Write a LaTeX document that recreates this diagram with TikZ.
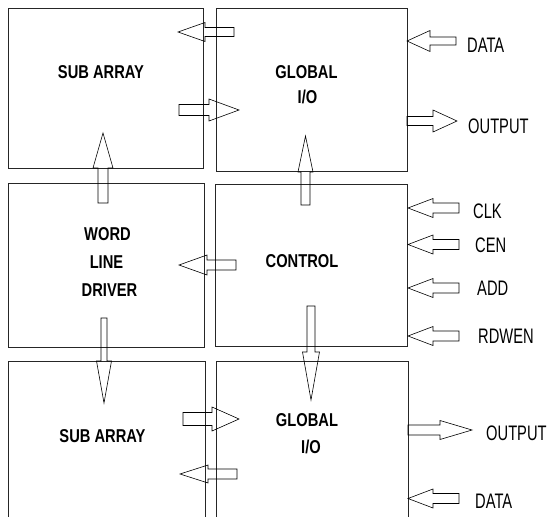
\documentclass[tikz,border=0pt]{standalone}
\usepackage{fontspec}
\usetikzlibrary{calc}
\newfontfamily\boxfont[FakeStretch=0.79]{Liberation Sans}
\newfontfamily\sigfont[FakeStretch=0.7]{Liberation Sans}
% block arrow: tail, tip, shaft half width, head half width, head length
\newcommand{\blockarrow}[5]{%
  \coordinate (bh) at ($(#2)!#5pt!(#1)$);
  \draw[blkarrow] ($(#1)!#3pt!90:(#2)$) -- ($(bh)!#3pt!90:(#2)$) -- ($(bh)!#4pt!90:(#2)$) -- (#2)
    -- ($(bh)!#4pt!-90:(#2)$) -- ($(bh)!#3pt!-90:(#2)$) -- ($(#1)!#3pt!-90:(#2)$) -- cycle;
}
\begin{document}
\begin{tikzpicture}[x=1pt,y=-1pt,
    box/.style={draw=black!85, line width=0.8pt, inner sep=0pt},
    blkarrow/.style={draw=black, line width=0.6pt, line join=miter},
    boxlabel/.style={anchor=base, inner sep=0pt, font=\boxfont\bfseries\fontsize{18.6}{20}\selectfont},
    siglabel/.style={anchor=base west, inner sep=0pt, font=\sigfont\fontsize{21}{24}\selectfont}]
    \clip (0,0) rectangle (547,517);
    \fill[white] (0,0) rectangle (547,517);
    % blocks
    \node[box, minimum width=195pt, minimum height=160pt] (sa1) at (105.5,88) {};
    \node[box, minimum width=191pt, minimum height=163pt] (gio1) at (311.5,89.5) {};
    \node[box, minimum width=196pt, minimum height=164pt] (wld) at (106,265) {};
    \node[box, minimum width=192pt, minimum height=162pt] (ctl) at (311,265) {};
    \node[box, minimum width=197pt, minimum height=168pt] (sa2) at (106.5,445) {};
    \node[box, minimum width=192pt, minimum height=168pt] (gio2) at (312,445) {};
    \node[boxlabel] (sa1a) at (101,78) {SUB ARRAY};
    \node[boxlabel] (gio1a) at (306.5,78) {GLOBAL};
    \node[boxlabel] (gio1b) at (307.5,103) {I/O};
    \node[boxlabel] (wlda) at (107.5,240) {WORD};
    \node[boxlabel] (wldb) at (106.5,268) {LINE};
    \node[boxlabel] (wldc) at (109.5,296) {DRIVER};
    \node[boxlabel] (ctla) at (302,267) {CONTROL};
    \node[boxlabel] (sa2a) at (102.5,442) {SUB ARRAY};
    \node[boxlabel] (gio2a) at (307,426) {GLOBAL};
    \node[boxlabel] (gio2b) at (311,453) {I/O};
    % arrow ends
    \coordinate (ga) at (234,32);   \coordinate (gb) at (178,32);
    \coordinate (sa) at (179,110);  \coordinate (sb) at (239,110);
    \coordinate (wa) at (103,203);  \coordinate (wb) at (103,133);
    \coordinate (ca) at (305.5,205);\coordinate (cb) at (305.5,136);
    \coordinate (da) at (456,41);   \coordinate (db) at (407,41);
    \coordinate (oa) at (407,121);  \coordinate (ob) at (457,121);
    \coordinate (cwa) at (236,265); \coordinate (cwb) at (179,265);
    \coordinate (k1a) at (459,208); \coordinate (k1b) at (408,208);
    \coordinate (k2a) at (459,244.5); \coordinate (k2b) at (408,244.5);
    \coordinate (k3a) at (459,288); \coordinate (k3b) at (408,288);
    \coordinate (k4a) at (459,336); \coordinate (k4b) at (408,336);
    \coordinate (wsa) at (104,318); \coordinate (wsb) at (104,403);
    \coordinate (cga) at (311,306); \coordinate (cgb) at (311,400);
    \coordinate (s2a) at (183,419); \coordinate (s2b) at (239,419);
    \coordinate (g2a) at (237,474); \coordinate (g2b) at (180,474);
    \coordinate (o2a) at (408,430); \coordinate (o2b) at (472,430);
    \coordinate (d2a) at (459,498.5); \coordinate (d2b) at (408,498.5);
    % arrows
    \blockarrow{ga}{gb}{4.5}{9.5}{27}
    \blockarrow{sa}{sb}{5.5}{11}{30}
    \blockarrow{wa}{wb}{5}{10}{35}
    \blockarrow{ca}{cb}{4.5}{7.5}{36}
    \blockarrow{da}{db}{4}{10.5}{23}
    \blockarrow{oa}{ob}{4.5}{11}{24}
    \blockarrow{cwa}{cwb}{5}{10}{28}
    \blockarrow{k1a}{k1b}{5}{9.5}{25}
    \blockarrow{k2a}{k2b}{5}{9.5}{25}
    \blockarrow{k3a}{k3b}{5}{9.5}{25}
    \blockarrow{k4a}{k4b}{5}{9.5}{25}
    \blockarrow{wsa}{wsb}{3}{7.5}{42}
    \blockarrow{cga}{cgb}{4}{8.5}{48}
    \blockarrow{s2a}{s2b}{6.5}{12}{27}
    \blockarrow{g2a}{g2b}{5}{9}{28}
    \blockarrow{o2a}{o2b}{5}{9.5}{32}
    \blockarrow{d2a}{d2b}{5}{9.5}{25}
    % signal names
    \node[siglabel] (dat1) at (467,52) {DATA};
    \node[siglabel] (out1) at (468,133) {OUTPUT};
    \node[siglabel] (clk) at (473,218) {CLK};
    \node[siglabel] (cen) at (475,252) {CEN};
    \node[siglabel] (add) at (477,295) {ADD};
    \node[siglabel] (rdw) at (478,343) {RDWEN};
    \node[siglabel] (out2) at (486,440) {OUTPUT};
    \node[siglabel] (dat2) at (475,508) {DATA};
\end{tikzpicture}
\end{document}
